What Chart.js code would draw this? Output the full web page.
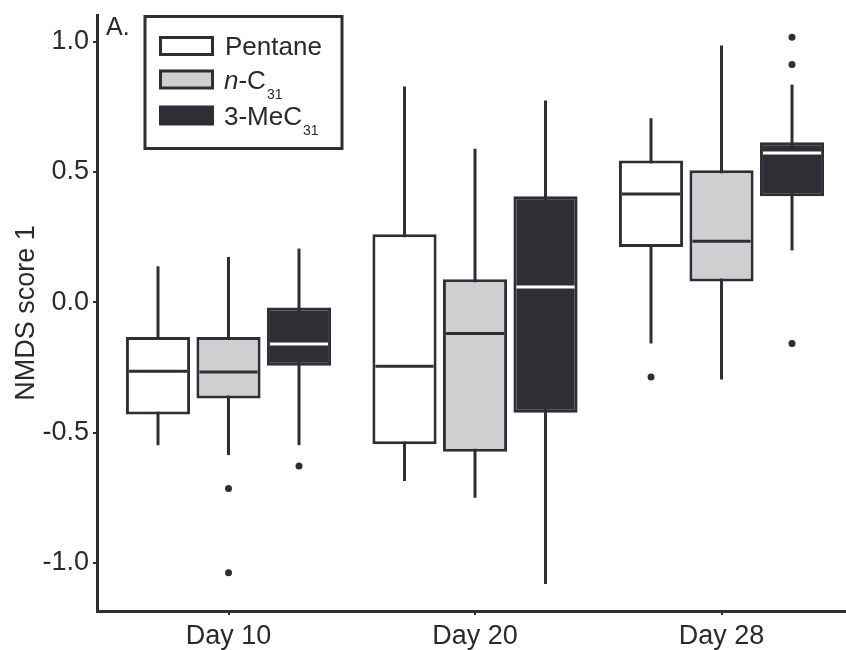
<!DOCTYPE html>
<html>
<head>
<meta charset="utf-8">
<script src="https://cdn.jsdelivr.net/npm/chart.js@4.4.1/dist/chart.umd.min.js"></script>
<style>
  html, body { margin: 0; padding: 0; background: #ffffff; }
  #c { display: block; }
</style>
</head>
<body>
<canvas id="c" width="846" height="650"></canvas>
<script>
// ---------------- data ----------------
const categories = ['Day 10', 'Day 20', 'Day 28'];
const yTickValues = [-1.0, -0.5, 0.0, 0.5, 1.0];

// Pentane
const pentaneMin     = [-0.548, -0.685, -0.158];
const pentaneQ1      = [-0.430, -0.544,  0.212];
const pentaneMedian  = [-0.264, -0.245,  0.415];
const pentaneQ3      = [-0.133,  0.261,  0.544];
const pentaneMax     = [ 0.138,  0.828,  0.706];
const pentaneOutliers = [[], [], [-0.286]];

// n-C31
const nc31Min     = [-0.586, -0.750, -0.296];
const nc31Q1      = [-0.369, -0.573,  0.080];
const nc31Median  = [-0.267, -0.120,  0.234];
const nc31Q3      = [-0.133,  0.088,  0.507];
const nc31Max     = [ 0.174,  0.589,  0.985];
const nc31Outliers = [[-0.714, -1.037], [], []];

// 3-MeC31
const me31Min     = [-0.548, -1.080,  0.199];
const me31Q1      = [-0.243, -0.424,  0.407];
const me31Median  = [-0.160,  0.059,  0.573];
const me31Q3      = [-0.020,  0.407,  0.614];
const me31Max     = [ 0.206,  0.774,  0.835];
const me31Outliers = [[-0.628], [], [1.017, 0.912, -0.158]];

// ---------------- styles ----------------
const DARK = '#2d2f35';
const GRAY = '#cfcfd1';
const TEXT = '#2a2a2a';
const FONT = "'Liberation Sans', Arial, sans-serif";

function makeDataset(label, q1, q3, med, lo, hi, outl, fill, medColor) {
  return {
    label: label,
    data: categories.map((c, i) => ({ x: i + 1, y: [q1[i], q3[i]] })),
    backgroundColor: fill,
    borderColor: DARK,
    borderWidth: 3,
    borderSkipped: false,
    categoryPercentage: 0.858,
    barPercentage: 0.91,
    box: { median: med, low: lo, high: hi, outliers: outl, medianColor: medColor }
  };
}

const datasets = [
  makeDataset('Pentane', pentaneQ1, pentaneQ3, pentaneMedian, pentaneMin, pentaneMax, pentaneOutliers, '#ffffff', DARK),
  makeDataset('n-C31', nc31Q1, nc31Q3, nc31Median, nc31Min, nc31Max, nc31Outliers, GRAY, DARK),
  makeDataset('3-MeC31', me31Q1, me31Q3, me31Median, me31Min, me31Max, me31Outliers, DARK, '#ffffff')
];

const boxPlugin = {
  id: 'boxExtras',
  beforeDatasetsDraw(chart) {
    const ctx = chart.ctx, ys = chart.scales.y;
    ctx.save();
    ctx.strokeStyle = DARK;
    ctx.lineWidth = 3;
    chart.data.datasets.forEach((ds, di) => {
      const meta = chart.getDatasetMeta(di);
      meta.data.forEach((el, i) => {
        ctx.beginPath();
        ctx.moveTo(el.x, ys.getPixelForValue(ds.box.high[i]));
        ctx.lineTo(el.x, ys.getPixelForValue(ds.box.low[i]));
        ctx.stroke();
      });
    });
    ctx.restore();
  },
  afterDatasetsDraw(chart) {
    const ctx = chart.ctx, ys = chart.scales.y;
    ctx.save();
    chart.data.datasets.forEach((ds, di) => {
      const meta = chart.getDatasetMeta(di);
      meta.data.forEach((el, i) => {
        const half = el.width / 2 - 3;
        const y = ys.getPixelForValue(ds.box.median[i]);
        ctx.strokeStyle = ds.box.medianColor;
        ctx.lineWidth = 3;
        ctx.beginPath();
        ctx.moveTo(el.x - half, y);
        ctx.lineTo(el.x + half, y);
        ctx.stroke();
        ctx.fillStyle = DARK;
        ds.box.outliers[i].forEach(v => {
          ctx.beginPath();
          ctx.arc(el.x, ys.getPixelForValue(v), 3.5, 0, Math.PI * 2);
          ctx.fill();
        });
      });
    });
    ctx.restore();
  },
  afterDraw(chart) {
    const ctx = chart.ctx;
    ctx.save();
    // panel letter
    ctx.fillStyle = TEXT;
    ctx.font = '25px ' + FONT;
    ctx.textBaseline = 'alphabetic';
    ctx.textAlign = 'left';
    ctx.fillText('A.', 106, 35);
    // legend box
    ctx.fillStyle = '#ffffff';
    ctx.fillRect(145, 16.5, 197, 132);
    ctx.strokeStyle = DARK;
    ctx.lineWidth = 3;
    ctx.strokeRect(145, 16.5, 197, 132);
    const rows = [37.5, 71, 107];
    const bases = [54.5, 88.5, 124.5];
    chart.data.datasets.forEach((ds, i) => {
      ctx.fillStyle = ds.backgroundColor;
      ctx.fillRect(160.5, rows[i], 52, 17);
      ctx.strokeStyle = DARK;
      ctx.lineWidth = 3;
      ctx.strokeRect(160.5, rows[i], 52, 17);
    });
    ctx.fillStyle = TEXT;
    let x = 225;
    ctx.font = '26px ' + FONT;
    ctx.fillText('Pentane', x, bases[0]);
    // n-C31
    x = 224;
    ctx.font = 'italic 26px ' + FONT;
    ctx.fillText('n', x, bases[1]);
    x += ctx.measureText('n').width;
    ctx.font = '26px ' + FONT;
    ctx.fillText('-C', x, bases[1]);
    x += ctx.measureText('-C').width + 1;
    ctx.font = '14px ' + FONT;
    ctx.fillText('31', x, bases[1] + 10);
    // 3-MeC31
    x = 224;
    ctx.font = '26px ' + FONT;
    ctx.fillText('3-MeC', x, bases[2]);
    x += ctx.measureText('3-MeC').width + 1;
    ctx.font = '14px ' + FONT;
    ctx.fillText('31', x, bases[2] + 10);
    ctx.restore();
  }
};

new Chart(document.getElementById('c'), {
  type: 'bar',
  data: { datasets: datasets },
  plugins: [boxPlugin],
  options: {
    responsive: false,
    animation: false,
    devicePixelRatio: 1,
    layout: { padding: { top: 15, right: 0, left: 0, bottom: 0 } },
    plugins: { legend: { display: false }, tooltip: { enabled: false } },
    scales: {
      x: {
        type: 'linear',
        min: 0.4665,
        max: 3.505,
        offset: false,
        afterBuildTicks: s => { s.ticks = categories.map((c, i) => ({ value: i + 1 })); },
        afterFit: s => { s.height = 39; s.paddingLeft = 0; s.paddingRight = 0; },
        border: { display: true, color: DARK, width: 3 },
        grid: { display: true, offset: false, drawOnChartArea: false, drawTicks: true, tickLength: 4, color: DARK, lineWidth: 2 },
        ticks: {
          color: TEXT,
          font: { family: FONT, size: 27 },
          padding: 5,
          maxRotation: 0,
          autoSkip: false,
          callback: v => categories[Math.round(v) - 1] || ''
        }
      },
      y: {
        type: 'linear',
        min: -1.184,
        max: 1.102,
        afterBuildTicks: s => { s.ticks = yTickValues.map(v => ({ value: v })); },
        afterFit: s => { s.width = 97; s.paddingTop = 0; s.paddingBottom = 0; },
        border: { display: true, color: DARK, width: 3 },
        grid: { display: true, offset: false, drawOnChartArea: false, drawTicks: true, tickLength: 4, color: DARK, lineWidth: 2 },
        ticks: {
          color: TEXT,
          font: { family: FONT, size: 27 },
          padding: 4,
          callback: v => v.toFixed(1)
        },
        title: {
          display: true,
          text: 'NMDS score 1',
          color: TEXT,
          font: { family: FONT, size: 27 },
          padding: { top: 10, bottom: 0 }
        }
      }
    }
  }
});
</script>
</body>
</html>
